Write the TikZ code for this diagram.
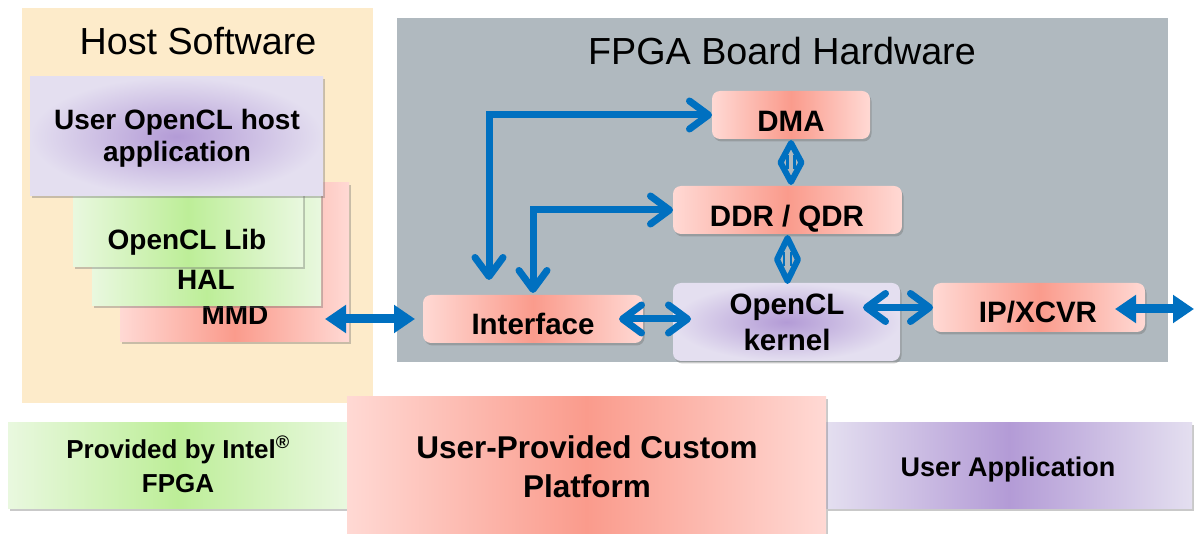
\documentclass[tikz,border=0pt]{standalone}
\usepackage{fontspec}
\setmainfont{Liberation Sans}
\usetikzlibrary{arrows.meta,shadows,calc}
\definecolor{hostbg}{HTML}{FDEBCA}
\definecolor{fpgabg}{HTML}{B0B9BF}
\definecolor{arrowblue}{HTML}{0070C0}
\definecolor{redin}{HTML}{FA9B8C}
\definecolor{redout}{HTML}{FFD9D4}
\definecolor{grnin}{HTML}{BDEE98}
\definecolor{grnout}{HTML}{E9F8DF}
\definecolor{purin}{HTML}{B39BD6}
\definecolor{purout}{HTML}{E4DFF0}
\begin{document}
\begin{tikzpicture}[x=1pt,y=-1pt,
  panel/.style={draw=none,inner sep=0pt,outer sep=0pt},
  blk/.style={draw=none,inner sep=0pt,outer sep=0pt,
    drop shadow={shadow xshift=1.5pt,shadow yshift=-2.5pt,opacity=0.35,fill=black!60}},
  redbox/.style={blk,left color=redout,right color=redout,middle color=redin},
  grnbox/.style={blk,left color=grnout,right color=grnout,middle color=grnin},
  purbox/.style={blk,left color=purout,right color=purout,middle color=purin},
  purrad/.style={blk,inner color=purin,outer color=purout},
  rnd/.style={rounded corners=8pt},
  ttl/.style={font=\fontsize{37.7}{44}\selectfont,anchor=base,inner sep=0pt},
  btxt/.style={font=\fontsize{29.5}{36}\selectfont\bfseries,anchor=base,inner sep=0pt},
  stxt/.style={font=\fontsize{28}{34}\selectfont\bfseries,anchor=base,inner sep=0pt},
  ltxt/.style={font=\fontsize{26}{32}\selectfont\bfseries,anchor=base,inner sep=0pt},
  bigtxt/.style={font=\fontsize{31.5}{38}\selectfont\bfseries,anchor=base,inner sep=0pt},
  openarr/.style={draw=arrowblue,line width=7pt,
    {Straight Barb[round,length=19pt,width=28pt]}-{Straight Barb[round,length=19pt,width=28pt]}},
  solidarr/.style={draw=arrowblue,line width=9pt,
    {Triangle[length=21pt,width=27pt]}-{Triangle[length=21pt,width=27pt]}},
  diamline/.style={draw=arrowblue,line width=6pt,line join=round},
  diambar/.style={draw=arrowblue,line width=2.5pt}
]
\useasboundingbox (0,0) rectangle (1194,534);
\fill[white] (0,0) rectangle (1194,534);

% panels
\node[panel,fill=hostbg,minimum width=351pt,minimum height=395pt] (host) at (197.5,205.5) {};
\node[ttl] (hostT) at (198,55) {Host Software};
\node[panel,fill=fpgabg,minimum width=771pt,minimum height=344pt] (fpga) at (782.5,190) {};
\node[ttl] (fpgaT) at (782,65) {FPGA Board Hardware};

% host stack
\node[redbox,minimum width=229pt,minimum height=159pt] (mmd) at (234.5,262.5) {};
\node[stxt] (mmdT) at (235,325) {MMD};
\node[grnbox,minimum width=229pt,minimum height=126pt] (hal) at (206.5,243) {};
\node[stxt] (halT) at (206,290) {HAL};
\node[grnbox,minimum width=230pt,minimum height=97pt] (lib) at (188,218.5) {};
\node[stxt] (libT) at (187,250) {OpenCL Lib};
\node[purrad,minimum width=293pt,minimum height=119pt] (app) at (176.5,136.5) {};
\node[stxt] (appT1) at (177,130) {User OpenCL host};
\node[stxt] (appT2) at (177,162) {application};

% FPGA boxes
\node[redbox,rnd,minimum width=158pt,minimum height=48pt] (dma) at (791,115) {};
\node[btxt] (dmaT) at (791,132) {DMA};
\node[redbox,rnd,minimum width=229pt,minimum height=48pt] (ddr) at (787.5,210) {};
\node[btxt] (ddrT) at (787,227) {DDR / QDR};
\node[purrad,rnd,minimum width=227pt,minimum height=78pt] (kernel) at (786.5,322) {};
\node[btxt] (kernelT1) at (787,315) {OpenCL};
\node[btxt] (kernelT2) at (787,351) {kernel};
\node[redbox,rnd,minimum width=220pt,minimum height=48pt] (iface) at (533,319) {};
\node[btxt] (ifaceT) at (533,335) {Interface};
\node[redbox,rnd,minimum width=212pt,minimum height=49pt] (ip) at (1039,307.5) {};
\node[btxt] (ipT) at (1038,323) {IP/XCVR};
\coordinate (ext) at (1194,309);

% connectors
\draw[openarr] ($(iface.north west)+(66,-15)$) |- (dma.west);
\draw[openarr] ($(iface.north west)+(110,-2)$) |- (ddr.west);

% double-headed (diamond) links DMA <-> DDR <-> kernel
\coordinate (d1a) at ($(dma.south)+(0,4)$);
\coordinate (d1b) at ($(dma.south |- ddr.north)+(0,-4)$);
\coordinate (d1m) at ($(d1a)!0.5!(d1b)$);
\draw[diamline] (d1a) -- ($(d1m)+(10.5,0)$) -- (d1b) -- ($(d1m)+(-10.5,0)$) -- cycle;
\draw[diambar] ($(d1m)+(-3.5,-7)$) -- ($(d1m)+(-3.5,7)$);
\draw[diambar] ($(d1m)+(3.5,-7)$) -- ($(d1m)+(3.5,7)$);
\coordinate (d2a) at ($(ddr.south)+(0,4)$);
\coordinate (d2b) at ($(ddr.south |- kernel.north)+(0,-2)$);
\coordinate (d2m) at ($(d2a)!0.5!(d2b)$);
\draw[diamline] (d2a) -- ($(d2m)+(10.5,0)$) -- (d2b) -- ($(d2m)+(-10.5,0)$) -- cycle;
\draw[diambar] ($(d2m)+(-3.5,-7)$) -- ($(d2m)+(-3.5,7)$);
\draw[diambar] ($(d2m)+(3.5,-7)$) -- ($(d2m)+(3.5,7)$);

\draw[openarr] ($(iface.east)+(-24,0)$) -- ($(kernel.west |- iface.east)+(18,0)$);
\draw[openarr] ($(kernel.east |- ip.west)+(-37,0)$) -- (ip.west);
\draw[solidarr] ($(ip.east |- ext)+(-30,0)$) -- (ext);
\draw[solidarr] ($(mmd.east |- iface.west)+(-24,0)$) -- ($(iface.west)+(-8,0)$);

% legend
\node[grnbox,minimum width=339pt,minimum height=86pt] (lgGreen) at (177.5,465) {};
\node[ltxt] (lgGreenT1) at (178,458) {Provided by Intel\textsuperscript{®}};
\node[ltxt] (lgGreenT2) at (178,492) {FPGA};
\node[purbox,minimum width=366pt,minimum height=86pt] (lgPur) at (1009,465) {};
\node[stxt,font=\fontsize{27}{32}\selectfont\bfseries] (lgPurT) at (1008,476) {User Application};
\node[redbox,minimum width=479pt,minimum height=137pt] (lgRed) at (586.5,465.5) {};
\node[bigtxt] (lgRedT1) at (587,458) {User-Provided Custom};
\node[bigtxt] (lgRedT2) at (587,497) {Platform};
\end{tikzpicture}
\end{document}
